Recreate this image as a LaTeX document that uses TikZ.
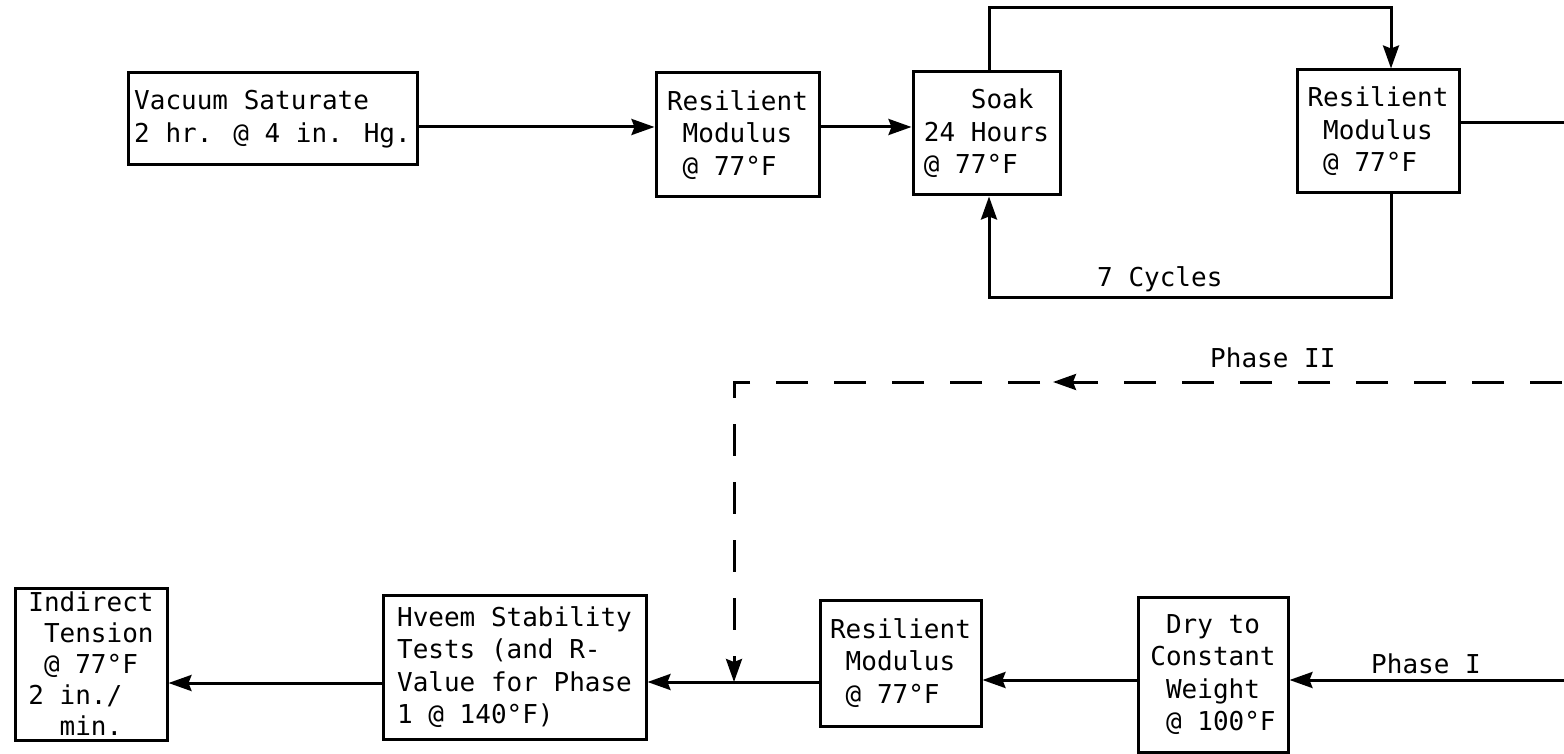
\documentclass[tikz,border=0pt]{standalone}
\usepackage{fontspec}
\newfontfamily\tw{DejaVu Sans Mono}
\usetikzlibrary{arrows.meta,decorations.markings}
\begin{document}
\begin{tikzpicture}[x=1pt,y=-1pt,
  txt/.style={font=\tw\fontsize{26}{32.5}\selectfont},
  box/.style={txt,draw,line width=3pt,inner sep=0pt,align=left},
  conn/.style={line width=3pt},
  tip/.style={-{Stealth[length=23pt,width=16pt,inset=3pt]}},
  arr/.style={conn,tip},
  dsh/.style={conn,dash pattern=on 32pt off 26pt,dash phase=56pt},
  lbl/.style={txt,inner sep=0pt,anchor=base west}]
\useasboundingbox (0,0) rectangle (1564,754);

% top row
\node[box,minimum width=289pt,minimum height=92pt] (vac) at (272.5,119) {Vacuum Saturate\\2 hr. @ 4 in. Hg.};
\node[box,minimum width=163pt,minimum height=124pt] (rm1) at (737.5,135) {Resilient\\\phantom{X}Modulus\\\phantom{X}@ 77°F};
\node[box,minimum width=147pt,minimum height=123pt] (soak) at (986.5,133.5) {\phantom{XXX}Soak\\24 Hours\\@ 77°F};
\node[box,minimum width=162pt,minimum height=123pt] (rm2) at (1378,131.5) {Resilient\\\phantom{X}Modulus\\\phantom{X}@ 77°F};

% bottom row
\node[box,font=\tw\fontsize{26}{31}\selectfont,minimum width=152pt,minimum height=152pt] (ind) at (91,664) {Indirect\\\phantom{X}Tension\\\phantom{X}@ 77°F\\2 in./\\\phantom{XX}min.};
\node[box,minimum width=263pt,minimum height=144pt] (hveem) at (514.5,667) {Hveem Stability\\Tests (and R-\\Value for Phase\\1 @ 140°F)};
\node[box,minimum width=161pt,minimum height=126pt] (rm3) at (900.5,663) {Resilient\\\phantom{X}Modulus\\\phantom{X}@ 77°F};
\node[box,minimum width=150pt,minimum height=155pt] (dry) at (1213,674.5) {\phantom{X}Dry to\\Constant\\\phantom{X}Weight\\\phantom{X}@ 100°F};

% labels
\node[lbl] (cyc) at (1097,287) {7 Cycles};
\node[lbl] (p2) at (1210,367) {Phase II};
\node[lbl] (p1) at (1371,673) {Phase I};

% free ends
\coordinate (r1) at (1564,123);
\coordinate (r2) at (1564,382);
\coordinate (c2) at (734,382);
\coordinate (j) at (734,682);
\coordinate (r3) at (1564,680);

% top connectors
\draw[arr] ([yshift=-8pt]vac.east) -- ([yshift=8pt]rm1.west);
\draw[arr] ([yshift=8pt]rm1.east) -- ([yshift=6.5pt]soak.west);
\draw[arr] ([xshift=2.5pt]soak.north) -- ++(0,-63) -| ([xshift=13pt]rm2.north);
\draw[arr] ([xshift=13pt]rm2.south) -- ++(0,103) -| ([xshift=2.5pt]soak.south);
\draw[conn] ([yshift=8.5pt]rm2.east) -- (r1);

% phase II dashed
\draw[dsh,tip,postaction={decorate},
  decoration={markings,mark=at position 511pt with {\arrow{Stealth[length=23pt,width=16pt,inset=3pt]}}}]
  (r2) -- (c2) -- (j);

% bottom connectors
\draw[arr] (r3) -- ([yshift=-5.5pt]dry.east);
\draw[arr] ([yshift=-5.5pt]dry.west) -- ([yshift=-17pt]rm3.east);
\draw[arr] ([yshift=-19pt]rm3.west) -- ([yshift=-15pt]hveem.east);
\draw[arr] ([yshift=-16pt]hveem.west) -- ([yshift=-19pt]ind.east);
\end{tikzpicture}
\end{document}
